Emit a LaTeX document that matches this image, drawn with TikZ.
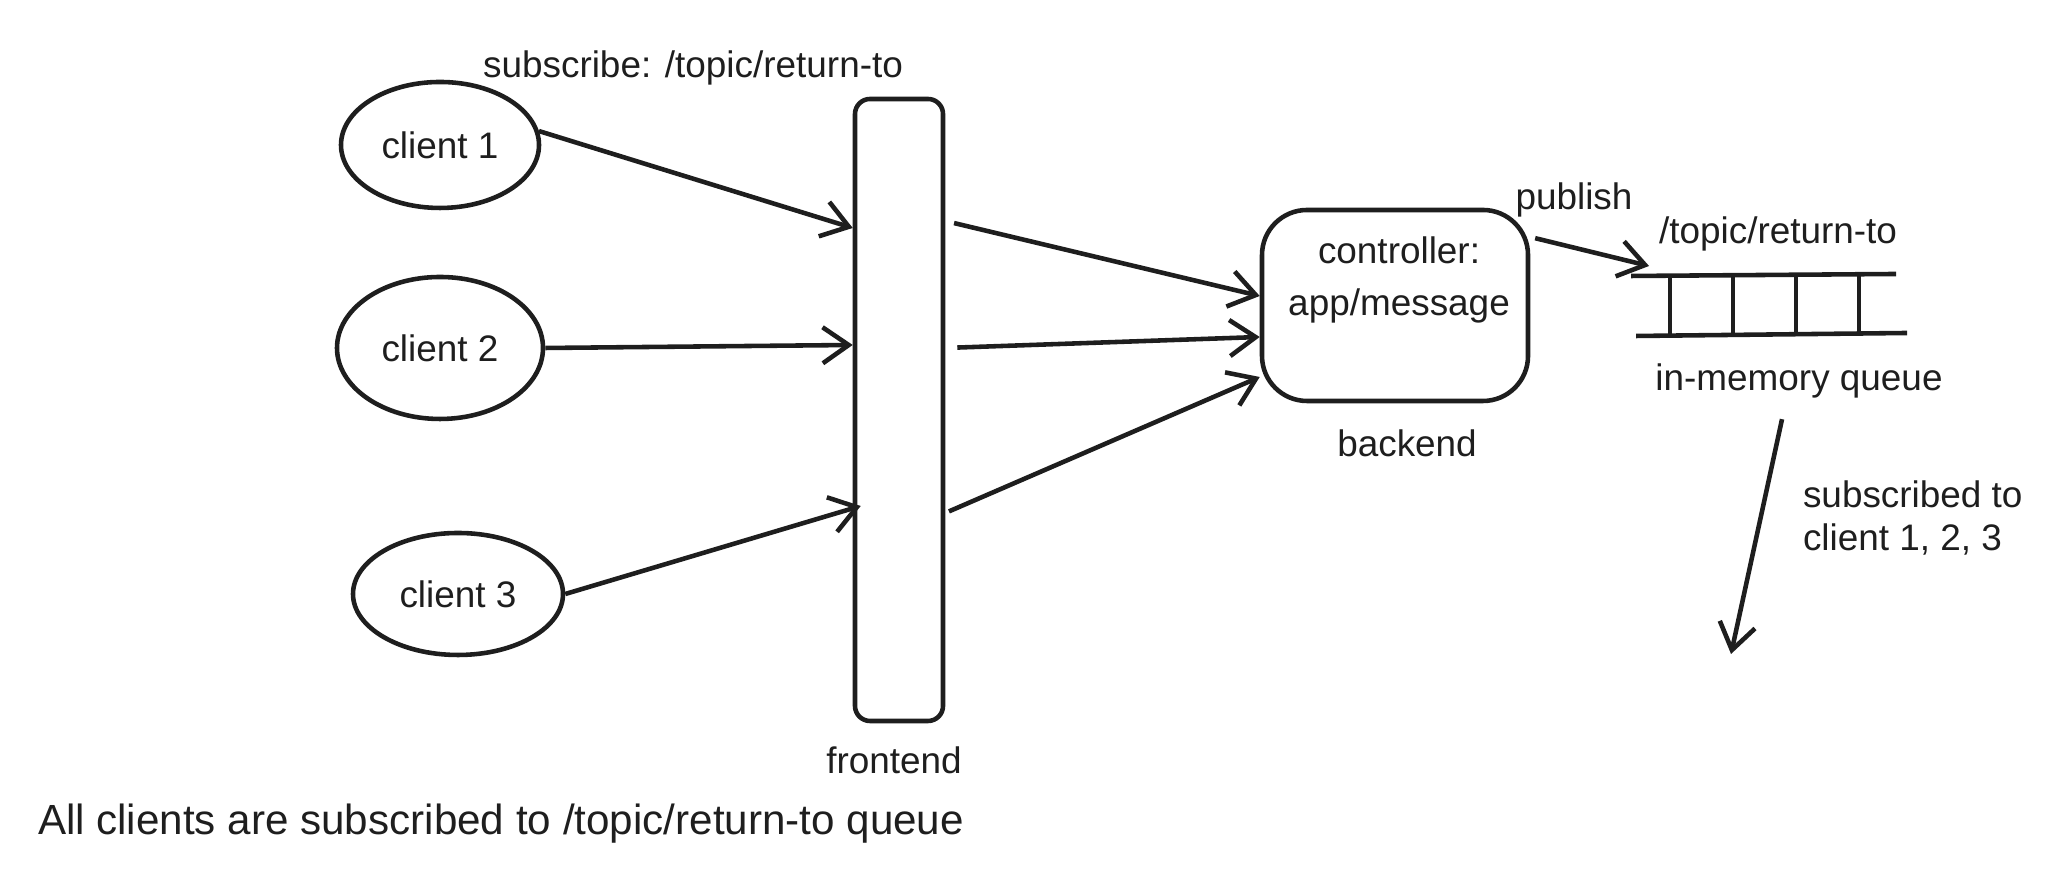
\documentclass[tikz,border=0pt]{standalone}
\usepackage{fontspec}
\setmainfont{Liberation Sans}
\usepackage{tikz}
\usetikzlibrary{shapes, arrows.meta, positioning}
\definecolor{inkblack}{RGB}{30,30,30}

\begin{document}
\begin{tikzpicture}[line width=1.3pt, color=inkblack,
    client/.style={ellipse, draw, inner sep=0pt, font=\fontsize{10.5}{12}\selectfont},
    arr/.style={-{Straight Barb[length=2.6mm, width=3.6mm]}},
    lbl/.style={font=\fontsize{10.5}{12}\selectfont}]
  \useasboundingbox (0,0) rectangle (20.62,8.76);
  % clients
  \node[client, minimum width=1.98cm, minimum height=1.26cm] (c1) at (4.40,7.31) {client 1};
  \node[client, minimum width=2.06cm, minimum height=1.42cm] (c2) at (4.40,5.28) {client 2};
  \node[client, minimum width=2.10cm, minimum height=1.22cm] (c3) at (4.58,2.82) {client 3};
  \node[lbl] (sub) at (6.93,8.08) {subscribe: /topic/return-to};
  % frontend bar
  \node[draw, rounded corners=0.15cm, minimum width=0.88cm, minimum height=6.22cm] (fe) at (8.99,4.66) {};
  \node[lbl] (felbl) at (8.94,1.16) {frontend};
  % backend
  \node[draw, rounded corners=0.45cm, minimum width=2.66cm, minimum height=1.91cm] (ctl) at (13.95,5.705) {};
  \node[lbl, align=center] (ctltxt) at (13.99,5.96) {controller:\\[3pt]app/message};
  \node[lbl] (be) at (14.07,4.33) {backend};
  \draw[arr] (c1.8) -- (fe.west |- 0,6.48);
  \draw[arr] (c2.east) -- (fe.west |- 0,5.31);
  \draw[arr] (c3.east) -- ([xshift=0.08cm]fe.west |- 0,3.70);
  \draw[arr, shorten <=0.09cm] (fe.east |- 0,6.55) -- (ctl.west |- 0,5.80);
  \draw[arr, shorten <=0.12cm] (fe.east |- 0,5.28) -- (ctl.west |- 0,5.39);
  \draw[arr, shorten <=0.04cm] (fe.east |- 0,3.63) -- (ctl.west |- 0,4.99);
  % queue
  \node[lbl] (pub) at (15.74,6.76) {publish};
  \node[lbl] (topic) at (17.78,6.42) {/topic/return-to};
  \coordinate (qin) at (16.49,6.10);
  \draw[arr, shorten <=0.05cm] (ctl.east |- 0,6.39) -- (qin);
  \draw (16.31,6.00) -- (18.96,6.02);
  \draw (16.36,5.40) -- (19.07,5.43);
  \foreach \x in {16.70,17.33,17.96,18.59}
    \draw (\x,6.01) -- (\x,5.41);
  \node[lbl] (iq) at (17.99,4.95) {in-memory queue};
  \coordinate (qout) at (17.31,2.22);
  \draw[arr] ([shift={(-0.17,-0.07)}]iq.south) -- (qout);
  \node[lbl, align=left, anchor=west] (subs) at (17.89,3.58) {subscribed to\\client 1, 2, 3};
  \node[font=\fontsize{12}{14}\selectfont, anchor=west] (note) at (0.24,0.52) {All clients are subscribed to /topic/return-to queue};
\end{tikzpicture}
\end{document}
